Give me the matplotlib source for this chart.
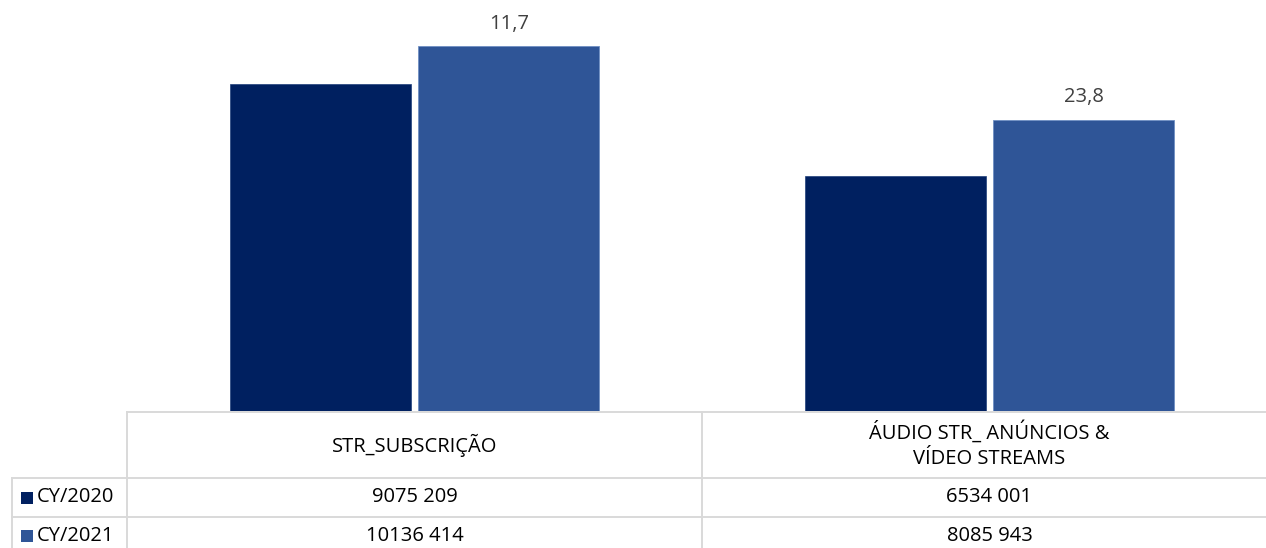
import numpy as np
import matplotlib.pyplot as plt
from matplotlib.lines import Line2D
from matplotlib.patches import Rectangle

plt.rcParams["font.family"] = ["Open Sans", "DejaVu Sans"]

categories = ["STR_SUBSCRIÇÃO", "ÁUDIO STR_ ANÚNCIOS &\nVÍDEO STREAMS"]
series_names = ["CY/2020", "CY/2021"]
values_2020 = [9075209, 6534001]
values_2021 = [10136414, 8085943]
growth_labels = ["11,7", "23,8"]

color_2020 = "#002060"
color_2021 = "#2F5597"
grid_color = "#d9d9d9"
label_color = "#404040"

W, H = 1266, 548
fig = plt.figure(figsize=(W / 100, H / 100), dpi=100)

def fx(px):
    return px / W

def fy(py):
    return 1 - py / H

# plot area: one cell per category, 575 px wide, starting at x=127
x0_px, cell_px, base_px = 127, 575, 411
ax = fig.add_axes([fx(x0_px), fy(base_px), fx(2 * cell_px), base_px / H])
ax.set_xlim(-0.5, 1.5)
ax.set_ylim(0, base_px / 36.0 * 1e6)
ax.axis("off")

x = np.arange(len(categories))
w = 0.315
off = 0.164
ax.bar(x - off, values_2020, w, color=color_2020, edgecolor="#1f3f7a", linewidth=0.5)
bars21 = ax.bar(x + off, values_2021, w, color=color_2021, edgecolor="#6f8fc4", linewidth=0.6)
for rect, lab in zip(bars21, growth_labels):
    ax.annotate(lab, (rect.get_x() + rect.get_width() / 2, rect.get_height()),
                xytext=(0, 9), textcoords="offset points", ha="center", va="bottom",
                fontsize=14.5, color=label_color)

# data table below the plot
lw = 1.4
def hline(py, x_start, x_end=W + 20):
    fig.add_artist(Line2D([fx(x_start), fx(x_end)], [fy(py), fy(py)], color=grid_color, lw=lw))

def vline(px, y_start, y_end=H + 20):
    fig.add_artist(Line2D([fx(px), fx(px)], [fy(y_start), fy(y_end)], color=grid_color, lw=lw))

top_px, row1_px, row2_px = 412, 478, 517
hline(top_px, x0_px)
hline(row1_px, 12)
hline(row2_px, 12)
vline(12, row1_px)
vline(x0_px, top_px)
vline(x0_px + cell_px, top_px)

fs = 14.5
for i, cat in enumerate(categories):
    cx = x0_px + cell_px * (i + 0.5)
    fig.text(fx(cx), fy((top_px + row1_px) / 2), cat, ha="center", va="center",
             fontsize=fs, color="#000000", linespacing=1.35)

rows = [values_2020, values_2021]
colors = [color_2020, color_2021]
row_centers = [(row1_px + row2_px) / 2, 536]
for vals, name, col, cy in zip(rows, series_names, colors, row_centers):
    fig.add_artist(Rectangle((fx(21), fy(cy + 6)), fx(12), 12 / H, color=col, lw=0))
    fig.text(fx(37), fy(cy), name, ha="left", va="center", fontsize=fs, color="#000000")
    for i, v in enumerate(vals):
        cx = x0_px + cell_px * (i + 0.5)
        txt = f"{v:,}".replace(",", " ")
        txt = txt[:-4].replace(" ", "") + txt[-4:] if len(txt) > 7 else txt
        fig.text(fx(cx), fy(cy), txt, ha="center", va="center", fontsize=fs, color="#000000")

fig.savefig("out.png", dpi=100)
